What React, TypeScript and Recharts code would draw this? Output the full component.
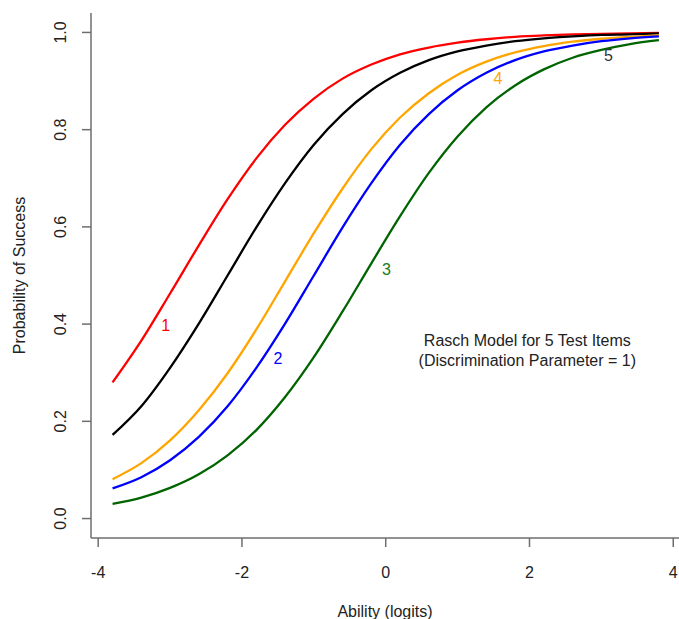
import React from "react";
import { ComposedChart, Line, Scatter, XAxis, YAxis } from "recharts";

// ability grid (logits) and probability of success for each item
const abilities = [-3.8, -3.4, -3.0, -2.6, -2.2, -1.8, -1.4, -1.0, -0.6, -0.2, 0.2, 0.6, 1.0, 1.4, 1.8, 2.2, 2.6, 3.0, 3.4, 3.8];

const item1 = [0.28, 0.366, 0.463, 0.562, 0.657, 0.741, 0.81, 0.864, 0.905, 0.934, 0.955, 0.969, 0.979, 0.986, 0.991, 0.994, 0.996, 0.997, 0.998, 0.999];
const item2 = [0.062, 0.085, 0.12, 0.168, 0.231, 0.31, 0.401, 0.5, 0.599, 0.69, 0.769, 0.832, 0.881, 0.917, 0.943, 0.961, 0.973, 0.982, 0.988, 0.992];
const item3 = [0.03, 0.043, 0.063, 0.091, 0.13, 0.182, 0.25, 0.332, 0.426, 0.525, 0.622, 0.711, 0.786, 0.846, 0.891, 0.924, 0.948, 0.964, 0.976, 0.984];
const item4 = [0.081, 0.114, 0.161, 0.223, 0.299, 0.389, 0.488, 0.587, 0.679, 0.76, 0.825, 0.875, 0.913, 0.94, 0.959, 0.972, 0.981, 0.987, 0.991, 0.994];
const item5 = [0.172, 0.231, 0.31, 0.401, 0.5, 0.599, 0.69, 0.769, 0.832, 0.881, 0.917, 0.943, 0.961, 0.973, 0.982, 0.988, 0.992, 0.995, 0.996, 0.998];

const xTicks = [-4, -2, 0, 2, 4];
const yTicks = [0, 0.2, 0.4, 0.6, 0.8, 1.0];

// item number tags placed next to each curve
const itemTags = [
  { ability: -3.06, y: 0.398, text: "1", color: "#ff0000" },
  { ability: -1.5, y: 0.33, text: "2", color: "#0000ff" },
  { ability: 0.01, y: 0.513, text: "3", color: "#1a7a1a" },
  { ability: 1.56, y: 0.905, text: "4", color: "#ffa500" },
  { ability: 3.1, y: 0.953, text: "5", color: "#333333" },
];

const captionLines = ["Rasch Model for 5 Test Items", "(Discrimination Parameter = 1)"];
const captionAt = [{ ability: 1.97, y: 0.345 }];

const series = [
  { key: "item1", values: item1, color: "#ff0000" },
  { key: "item5", values: item5, color: "#000000" },
  { key: "item4", values: item4, color: "#ffa500" },
  { key: "item2", values: item2, color: "#0000ff" },
  { key: "item3", values: item3, color: "#006400" },
];

const rows = abilities.map((a, i) => {
  const row: Record<string, number> = { ability: a };
  series.forEach((s) => (row[s.key] = s.values[i]));
  return row;
});

const FONT = "'Liberation Sans', Arial, sans-serif";
const AXIS = "#6e6e6e";
const TEXT = "#222";

const YTick = (props: any) => {
  const { y, payload } = props;
  return (
    <text x={61} y={y} transform={`rotate(-90, 61, ${y})`} textAnchor="middle" dominantBaseline="central"
      fontFamily={FONT} fontSize={16} fill={TEXT}>
      {Number(payload.value).toFixed(1)}
    </text>
  );
};

const YTitle = (props: any) => {
  const vb = props.viewBox;
  const cy = vb.y + vb.height / 2;
  return (
    <text x={19} y={cy} transform={`rotate(-90, 19, ${cy})`} textAnchor="middle" dominantBaseline="central"
      fontFamily={FONT} fontSize={16} fill={TEXT}>
      Probability of Success
    </text>
  );
};

const XTitle = (props: any) => {
  const vb = props.viewBox;
  return (
    <text x={vb.x + vb.width / 2} y={611} textAnchor="middle" dominantBaseline="central"
      fontFamily={FONT} fontSize={16} fill={TEXT}>
      Ability (logits)
    </text>
  );
};

const TagShape = (props: any) => {
  const { cx, cy, payload } = props;
  return (
    <text x={cx} y={cy} textAnchor="middle" dominantBaseline="central" fontFamily={FONT} fontSize={16} fill={payload.color}>
      {payload.text}
    </text>
  );
};

const CaptionShape = (props: any) => {
  const { cx, cy } = props;
  return (
    <text textAnchor="middle" fontFamily={FONT} fontSize={16} fill={TEXT}>
      {captionLines.map((line, i) => (
        <tspan key={i} x={cx} y={cy + (i - 0.5) * 20} dominantBaseline="central">
          {line}
        </tspan>
      ))}
    </text>
  );
};

export default function App() {
  return (
    <div style={{ position: "absolute", left: 0, top: 0, background: "#fff" }}>
      <ComposedChart width={679} height={619} data={rows} margin={{ top: 13, right: 0, bottom: 0, left: 0 }}>
        <XAxis
          dataKey="ability"
          type="number"
          domain={[-4.1, 4.08]}
          ticks={xTicks}
          allowDataOverflow
          height={81}
          stroke={AXIS}
          strokeWidth={1.5}
          tickSize={9}
          tickMargin={20}
          tick={{ fill: TEXT, fontSize: 16, fontFamily: FONT }}
          label={<XTitle />}
        />
        <YAxis
          type="number"
          domain={[-0.04, 1.04]}
          ticks={yTicks}
          allowDataOverflow
          width={91}
          stroke={AXIS}
          strokeWidth={1.5}
          tickSize={9}
          tick={<YTick />}
          label={<YTitle />}
        />
        {series.map((s) => (
          <Line key={s.key} dataKey={s.key} type="monotone" stroke={s.color} strokeWidth={2.3} dot={false}
            isAnimationActive={false} />
        ))}
        <Scatter data={itemTags} dataKey="y" shape={<TagShape />} isAnimationActive={false} />
        <Scatter data={captionAt} dataKey="y" shape={<CaptionShape />} isAnimationActive={false} />
      </ComposedChart>
    </div>
  );
}
